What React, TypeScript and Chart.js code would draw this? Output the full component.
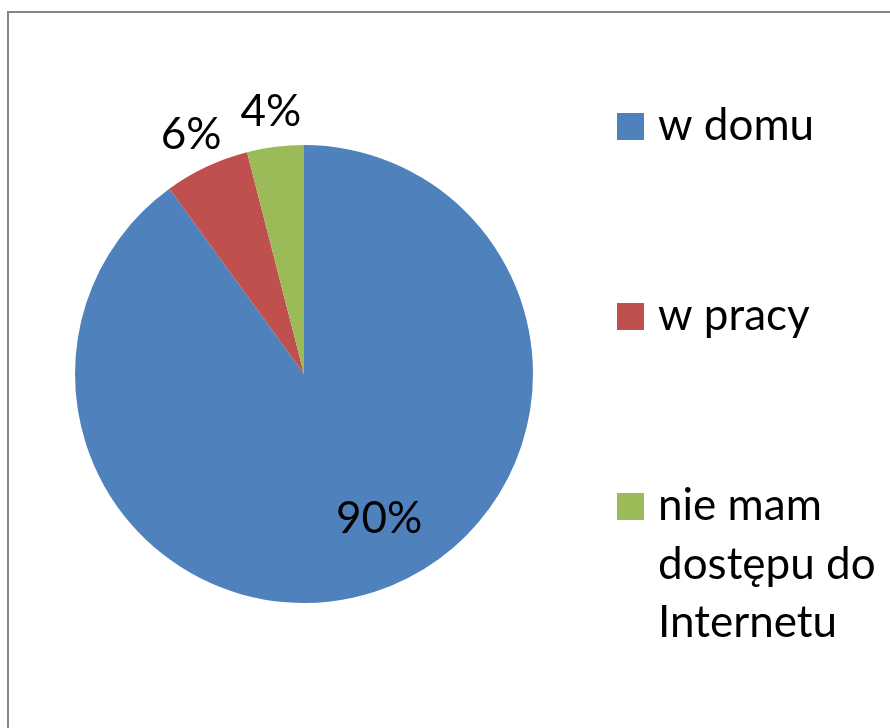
import React, { useEffect, useRef } from "react";
import { Chart, registerables } from "chart.js";

Chart.register(...registerables);

const categories: string[][] = [["w domu"], ["w pracy"], ["nie mam", "dostępu do", "Internetu"]];
const values: number[] = [90, 6, 4];
const valueLabels: string[] = ["90%", "6%", "4%"];
const colors: string[] = ["#4F81BD", "#C0504D", "#9BBB59"];

const FONT = "44px Lato";

const labelPlugin = {
  id: "sliceLabels",
  afterDatasetsDraw(chart: any) {
    const ctx = chart.ctx;
    const meta = chart.getDatasetMeta(0);
    ctx.save();
    ctx.font = FONT;
    ctx.fillStyle = "#000";
    ctx.textAlign = "center";
    ctx.textBaseline = "middle";
    meta.data.forEach((arc: any, i: number) => {
      const { x, y, startAngle, endAngle, outerRadius } = arc.getProps(
        ["x", "y", "startAngle", "endAngle", "outerRadius"],
        true
      );
      let mid = (startAngle + endAngle) / 2;
      let r: number;
      if (values[i] > 50) {
        mid -= (9.5 * Math.PI) / 180;
        r = outerRadius * 0.71;
      } else {
        r = outerRadius + 36;
      }
      ctx.fillText(valueLabels[i], x + Math.cos(mid) * r, y + Math.sin(mid) * r + 1);
    });
    ctx.restore();
  },
};

const legendPlugin = {
  id: "customLegend",
  afterDraw(chart: any) {
    const ctx = chart.ctx;
    const area = chart.chartArea;
    const boxX = area.right + 84;
    const textX = boxX + 41;
    const tops = [100, 290, 480];
    const box = 27;
    const lineH = 58.5;
    ctx.save();
    ctx.font = FONT;
    ctx.textAlign = "left";
    ctx.textBaseline = "alphabetic";
    categories.forEach((lines, i) => {
      ctx.fillStyle = colors[i];
      ctx.fillRect(boxX, tops[i], box, box);
      ctx.fillStyle = "#000";
      lines.forEach((ln, j) => {
        ctx.fillText(ln, textX, tops[i] + box + j * lineH);
      });
    });
    ctx.restore();
  },
};

export default function App() {
  const ref = useRef<HTMLCanvasElement | null>(null);
  useEffect(() => {
    if (!ref.current) return;
    const chart = new Chart(ref.current, {
      type: "pie",
      data: {
        labels: categories.map((c) => c.join(" ")),
        datasets: [
          {
            data: values,
            backgroundColor: colors,
            borderWidth: 0,
            hoverOffset: 0,
          },
        ],
      },
      options: {
        responsive: false,
        animation: false,
        devicePixelRatio: 1,
        layout: { padding: { left: 66, top: 132, right: 366, bottom: 130 } },
        plugins: {
          legend: { display: false },
          tooltip: { enabled: false },
        },
        events: [],
      },
      plugins: [labelPlugin, legendPlugin],
    });
    return () => chart.destroy();
  }, []);

  return (
    <div style={{ position: "fixed", inset: 0, overflow: "hidden", background: "#fff" }}>
      <div
        style={{
          position: "absolute",
          left: 7,
          top: 11,
          width: 900,
          height: 740,
          border: "2px solid #868686",
          background: "#fff",
        }}
      >
        <canvas ref={ref} width={890} height={720} style={{ display: "block" }} />
      </div>
    </div>
  );
}
